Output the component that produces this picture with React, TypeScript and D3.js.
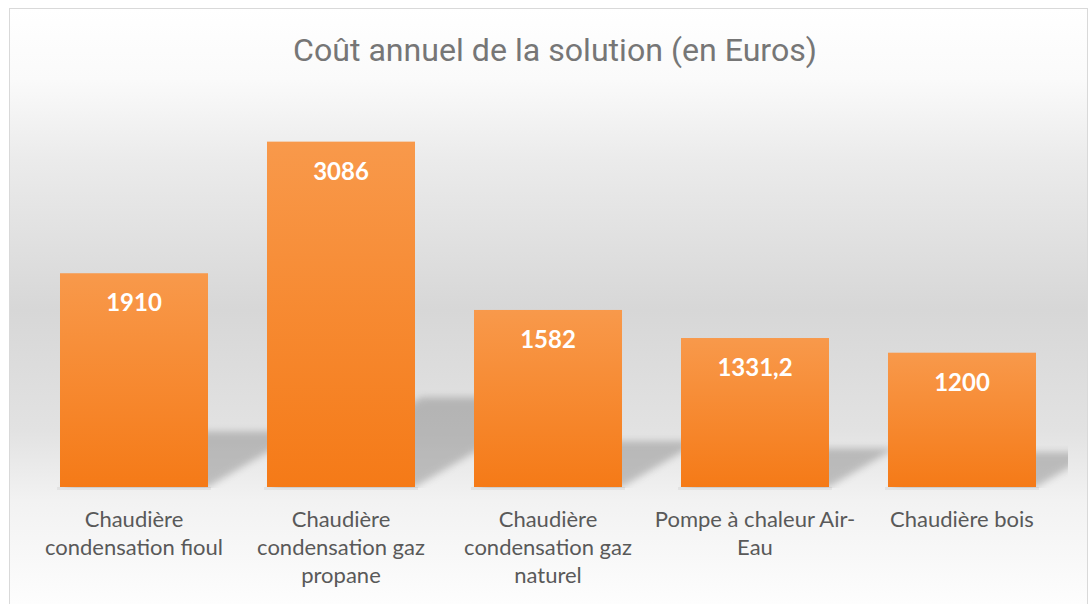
import React from "react";
import * as d3 from "d3";

const categories = [
  "Chaudière condensation fioul",
  "Chaudière condensation gaz propane",
  "Chaudière condensation gaz naturel",
  "Pompe à chaleur Air-Eau",
  "Chaudière bois",
];
const categoryLines = [
  ["Chaudière", "condensation fioul"],
  ["Chaudière", "condensation gaz", "propane"],
  ["Chaudière", "condensation gaz", "naturel"],
  ["Pompe à chaleur Air-", "Eau"],
  ["Chaudière bois"],
];
const values = [1910, 3086, 1582, 1331.2, 1200];
const valueLabels = ["1910", "3086", "1582", "1331,2", "1200"];
const title = "Coût annuel de la solution (en Euros)";

const W = 1089;
const H = 604;

export default function App() {
  const x = d3
    .scaleBand<string>()
    .domain(categories)
    .range([30.5, 1065.5])
    .paddingInner(0.285)
    .paddingOuter(0.1425);
  const y = d3.scaleLinear().domain([0, 3500]).range([487, 95.3]);
  const base = y(0);

  return (
    <svg
      width={W}
      height={H}
      style={{ position: "absolute", left: 0, top: 0, display: "block" }}
    >
      <defs>
        <linearGradient id="bg" gradientUnits="userSpaceOnUse" x1="0" y1="8" x2="0" y2="604">
          <stop offset={0} stopColor="#ffffff" />
          <stop offset={(80 - 8) / 596} stopColor="#fafafa" />
          <stop offset={(160 - 8) / 596} stopColor="#ebebeb" />
          <stop offset={(310 - 8) / 596} stopColor="#d7d7d7" />
          <stop offset={(430 - 8) / 596} stopColor="#e2e2e2" />
          <stop offset={(500 - 8) / 596} stopColor="#f2f2f2" />
          <stop offset={1} stopColor="#fdfdfd" />
        </linearGradient>
        <linearGradient id="barGrad" x1="0" y1="0" x2="0" y2="1">
          <stop offset={0} stopColor="#f8994b" />
          <stop offset={1} stopColor="#f57a17" />
        </linearGradient>
        <filter id="blur" x="-20%" y="-20%" width="140%" height="140%">
          <feGaussianBlur stdDeviation={3.5} />
        </filter>
        <clipPath id="plotClip">
          <rect x={10} y={9} width={1058} height={base - 8} />
        </clipPath>
      </defs>

      <rect x={9.5} y={8.5} width={1078} height={H} fill="url(#bg)" stroke="#d9d9d9" strokeWidth={1} />

      <text
        x={555}
        y={61}
        textAnchor="middle"
        fontFamily="Roboto, 'Noto Sans', sans-serif"
        fontSize={31}
        fill="#767676"
        textLength={524}
        lengthAdjust="spacingAndGlyphs"
      >
        {title}
      </text>

      <g clipPath="url(#plotClip)">
        {categories.map((c, i) => {
          const x0 = x(c)!;
          const x1 = x0 + x.bandwidth();
          const bh = base - y(values[i]);
          const h = bh * 0.26;
          const dx = h * 1.7;
          const pts = [
            [x0 + 2, base],
            [x1, base],
            [x1 + dx, base - h],
            [x0 + 2 + dx, base - h],
          ]
            .map((p) => p.join(","))
            .join(" ");
          return (
            <polygon key={c} points={pts} fill="#7a7a7a" opacity={0.42} filter="url(#blur)" />
          );
        })}
      </g>

      {categories.map((c) => (
        <rect
          key={"s" + c}
          x={x(c)! - 3}
          y={base}
          width={x.bandwidth() + 6}
          height={3}
          fill="#000"
          opacity={0.05}
        />
      ))}

      {categories.map((c, i) => (
        <rect
          key={c}
          x={x(c)!}
          y={y(values[i])}
          width={x.bandwidth()}
          height={base - y(values[i])}
          fill="url(#barGrad)"
        />
      ))}

      {categories.map((c, i) => (
        <text
          key={"v" + c}
          x={x(c)! + x.bandwidth() / 2}
          y={y(values[i]) + 38}
          textAnchor="middle"
          fontFamily="Lato, 'Open Sans', sans-serif"
          fontWeight={700}
          fontSize={24}
          fill="#ffffff"
        >
          {valueLabels[i]}
        </text>
      ))}

      {categories.map((c, i) => (
        <text
          key={"c" + c}
          textAnchor="middle"
          fontFamily="Lato, 'Open Sans', sans-serif"
          fontSize={22}
          fill="#595959"
        >
          {categoryLines[i].map((line, j) => (
            <tspan key={j} x={x(c)! + x.bandwidth() / 2} y={527 + j * 28}>
              {line}
            </tspan>
          ))}
        </text>
      ))}
    </svg>
  );
}
